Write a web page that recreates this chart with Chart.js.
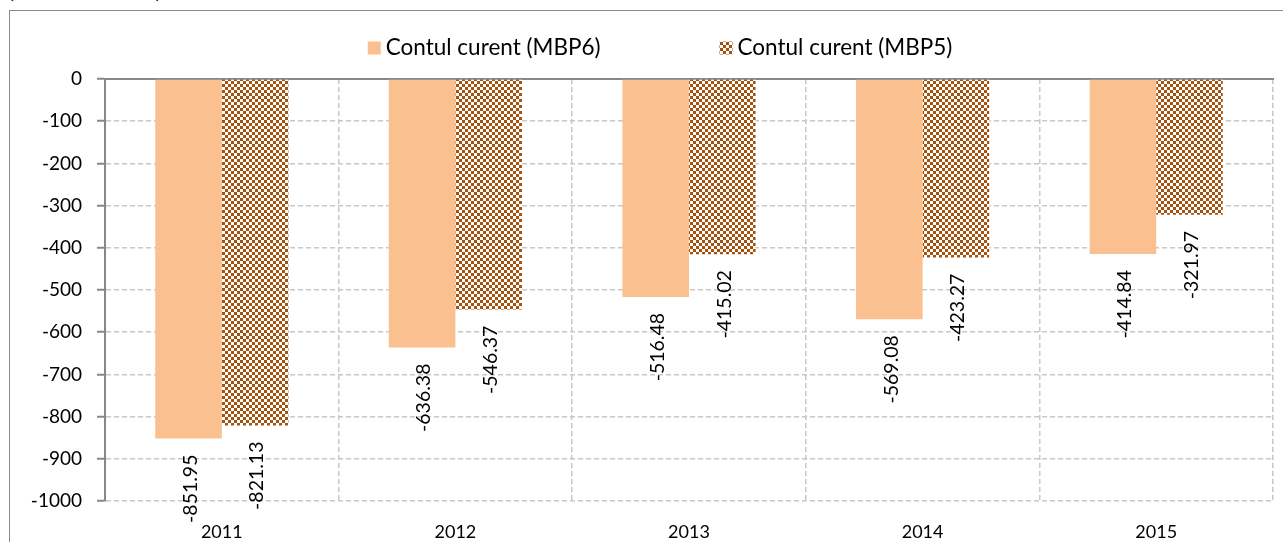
<!DOCTYPE html>
<html>
<head>
<meta charset="utf-8">
<script src="https://cdn.jsdelivr.net/npm/chart.js@4.4.1/dist/chart.umd.min.js"></script>
<style>
  html, body { margin: 0; padding: 0; background: #fff; overflow: hidden; }
  #wrap { position: relative; width: 1283px; height: 542px; overflow: hidden; }
  #frame { position: absolute; left: 9px; top: 10px; width: 1300px; height: 600px; border: 1.5px solid #8a8a8a; }
  #unit { position: absolute; left: 8px; top: -24px; font: 22px Lato, sans-serif; color: #000; }
  canvas { position: absolute; left: 0; top: 0; }
</style>
</head>
<body>
<div id="wrap">
  <div id="unit">(mil. dolari SUA)</div>
  <div id="frame"></div>
  <canvas id="chart" width="1283" height="542"></canvas>
</div>
<script>
const years = ['2011', '2012', '2013', '2014', '2015'];
const seriesNames = ['Contul curent (MBP6)', 'Contul curent (MBP5)'];
const mbp6 = [-851.95, -636.38, -516.48, -569.08, -414.84];
const mbp5 = [-821.13, -546.37, -415.02, -423.27, -321.97];
const yMin = -1000;
const yMax = 0;
const yStep = 100;

const FONT = 'Lato, sans-serif';

// small checkerboard fill for the MBP5 bars
function checker(color) {
  const c = document.createElement('canvas');
  c.width = 6;
  c.height = 6;
  const g = c.getContext('2d');
  g.fillStyle = '#fff';
  g.fillRect(0, 0, 6, 6);
  g.fillStyle = color;
  g.fillRect(0, 0, 3, 3);
  g.fillRect(3, 3, 3, 3);
  return g.createPattern(c, 'repeat');
}

const orange = '#fac090';
const brown = checker('#a5520f');

// rotated value labels under each bar
const barLabels = {
  id: 'barLabels',
  afterDatasetsDraw(chart) {
    const ctx = chart.ctx;
    chart.data.datasets.forEach((ds, i) => {
      chart.getDatasetMeta(i).data.forEach((bar, j) => {
        ctx.save();
        ctx.translate(bar.x + 2, bar.y + 16);
        ctx.rotate(-Math.PI / 2);
        ctx.font = '19.5px ' + FONT;
        ctx.fillStyle = '#000';
        ctx.textAlign = 'right';
        ctx.textBaseline = 'middle';
        ctx.fillText(ds.data[j].toFixed(2), 0, 0);
        ctx.restore();
      });
    });
  }
};

// legend with wide gap between the two items
const topLegend = {
  id: 'topLegend',
  afterDraw(chart) {
    const ctx = chart.ctx;
    const box = 13, gapText = 5, gapItems = 119, y = 48, center = 660;
    ctx.save();
    ctx.font = '22.5px ' + FONT;
    const items = chart.data.datasets.map(ds => ({
      text: ds.label, fill: ds.backgroundColor, w: box + gapText + ctx.measureText(ds.label).width
    }));
    const total = items.reduce((s, it) => s + it.w, 0) + gapItems * (items.length - 1);
    let x = center - total / 2;
    items.forEach(it => {
      ctx.fillStyle = it.fill;
      ctx.fillRect(x, y - box / 2, box, box);
      ctx.fillStyle = '#000';
      ctx.textAlign = 'left';
      ctx.textBaseline = 'middle';
      ctx.fillText(it.text, x + box + gapText, y);
      x += it.w + gapItems;
    });
    ctx.restore();
  }
};

new Chart(document.getElementById('chart'), {
  type: 'bar',
  data: {
    labels: years,
    datasets: [
      { label: seriesNames[0], data: mbp6, backgroundColor: orange, categoryPercentage: 0.57, barPercentage: 1 },
      { label: seriesNames[1], data: mbp5, backgroundColor: brown, categoryPercentage: 0.57, barPercentage: 1 }
    ]
  },
  options: {
    responsive: false,
    animation: false,
    devicePixelRatio: 1,
    layout: { padding: { top: 78, right: 10, left: 0, bottom: 0 } },
    plugins: {
      legend: { display: false },
      tooltip: { enabled: false }
    },
    scales: {
      x: {
        position: 'bottom',
        offset: true,
        grid: { offset: true, drawTicks: false, color: '#c8c8c8', lineWidth: 1.5 },
        border: { display: false, dash: [5, 3] },
        ticks: { font: { family: FONT, size: 18 }, color: '#000', padding: 20 },
        afterFit(s) { s.height = 41; }
      },
      top: {
        type: 'category',
        position: 'top',
        labels: years,
        grid: { display: false },
        ticks: { display: false },
        border: { color: '#888', width: 2 },
        afterFit(s) { s.height = 1; }
      },
      y: {
        min: yMin,
        max: yMax,
        ticks: {
          stepSize: yStep,
          font: { family: FONT, size: 19 },
          color: '#000',
          padding: 15,
          callback: v => String(v)
        },
        grid: { color: '#c8c8c8', lineWidth: 1.5, tickColor: '#888', tickWidth: 2, tickLength: 8 },
        border: { color: '#888', width: 2, dash: [5, 3] },
        afterFit(s) { s.width = 105; }
      }
    }
  },
  plugins: [barLabels, topLegend]
});
</script>
</body>
</html>
